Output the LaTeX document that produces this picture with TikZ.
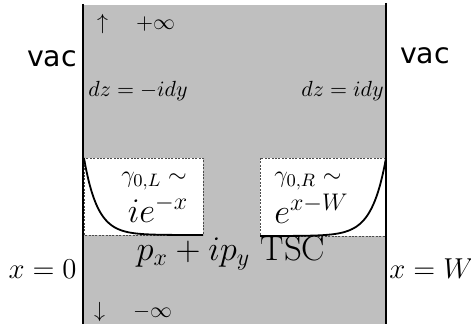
\documentclass[tikz,border=0pt]{standalone}
\usepackage{amsmath,amssymb}
\usepackage{fontspec}
\newfontfamily\vacfont{DejaVu Sans}
\usetikzlibrary{calc,positioning}

\begin{document}
\begin{tikzpicture}[x = 0.5pt, y = -0.5pt,
	small/.style = {inner sep = 0pt, font = \fontsize{11}{13}\selectfont},
	mid/.style = {inner sep = 0pt, font = \fontsize{12.3}{14}\selectfont},
	edgelabel/.style = {inner sep = 0pt, font = \fontsize{13.4}{15}\selectfont},
	big/.style = {inner sep = 0pt, font = \fontsize{17.5}{20}\selectfont},
	vaclabel/.style = {inner sep = 0pt, font = \vacfont\fontsize{14.2}{17}\selectfont},
	edgebox/.style = {fill = white, draw = black!70, line width = 0.3pt, dash pattern = on 1pt off 0.7pt},
	wall/.style = {line width = 1pt},
	decay/.style = {line width = 0.9pt}]
	\useasboundingbox (0,0) rectangle (471,326);
	
	\fill[gray!50] (83,5) rectangle (386,324);
	
	\draw[edgebox] (84,158) rectangle (203,235);
	\draw[edgebox] (260,158) rectangle (386,236);
	
	\draw[decay] plot[domain = 0:119, samples = 80, smooth] ({84+\x},{235-77*exp(-\x/13.3)});
	\draw[decay] plot[domain = 0:126, samples = 80, smooth] ({386-\x},{236-78*exp(-\x/14)});
	
	\draw[wall] (83,4) -- (83,324);
	\draw[wall] (386,3) -- (386,324);
	
	\node[vaclabel] (vacL) at (52,59) {vac};
	\node[vaclabel] (vacR) at (425,56) {vac};
	
	\node[small, anchor = base] (plusinf) at (136,30) {$\uparrow\quad+\infty$};
	\node[small, anchor = base] (minusinf) at (133,317) {$\downarrow\quad-\infty$};
	
	\node[small, anchor = base west] (dzL) at (88,97) {$dz=-idy$};
	\node[small, anchor = base east] (dzR) at (384,97) {$dz=idy$};
	
	\node[mid, anchor = base] (gammaL) at (154,182) {$\gamma_{0,L}\sim$};
	\node[big, anchor = base] (modeL) at (158,222) {$ie^{-x}$};
	\node[mid, anchor = base west] (gammaR) at (274,182) {$\gamma_{0,R}\sim$};
	\node[big, anchor = base west] (modeR) at (274,223) {$e^{x-W}$};
	
	\node[big, anchor = base] (tsc) at (231,260) {$p_x+ip_y$\ TSC};
	
	\node[edgelabel, anchor = base east] (xzero) at (77,278) {$x=0$};
	\node[edgelabel, anchor = base west] (xW) at (389,278) {$x=W$};
	
\end{tikzpicture}
\end{document}
